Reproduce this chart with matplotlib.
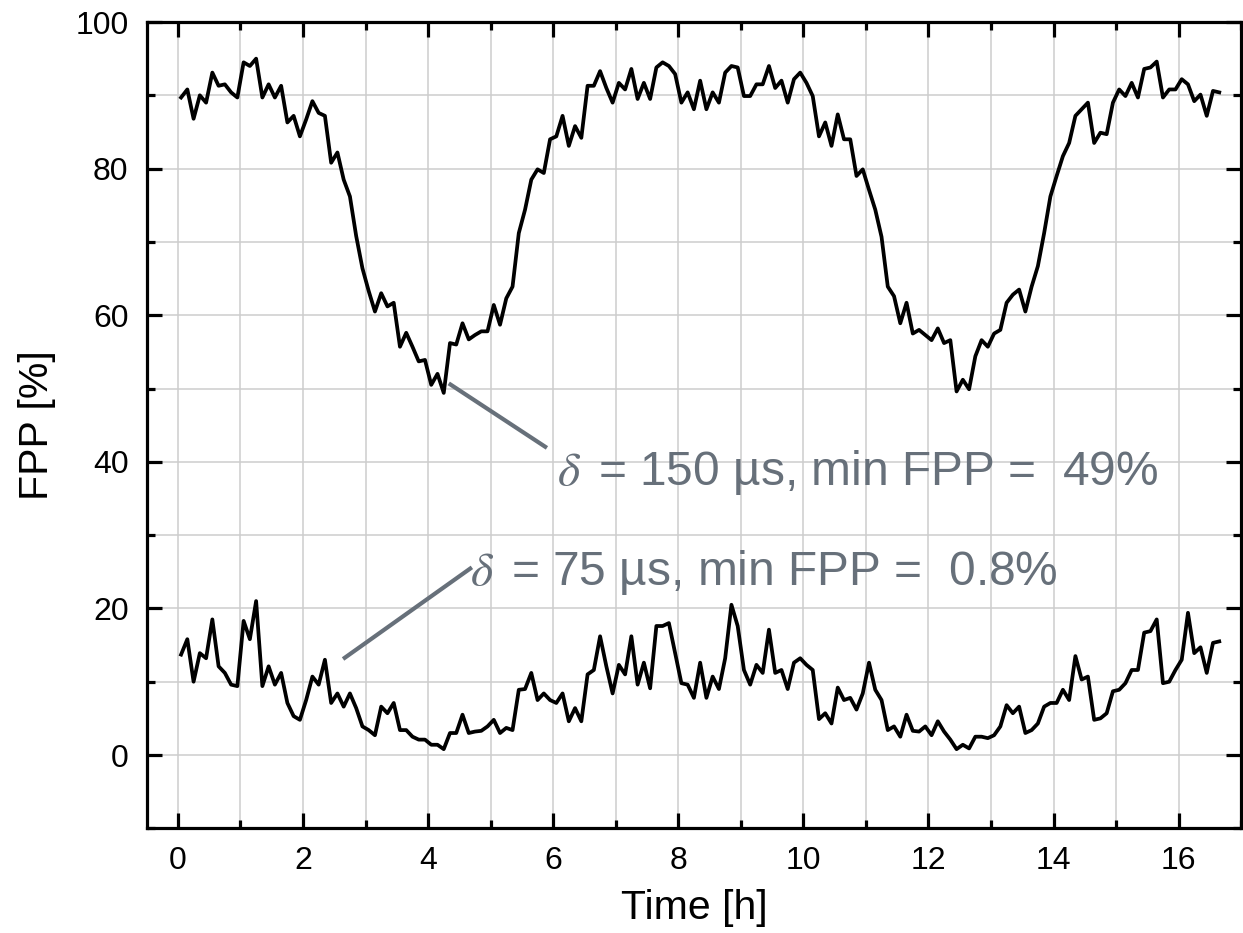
import numpy as np
import matplotlib
matplotlib.use("Agg")
import matplotlib.pyplot as plt
from matplotlib.ticker import MultipleLocator

plt.rcParams['font.family'] = ['Liberation Sans', 'DejaVu Sans']
plt.rcParams['mathtext.fontset'] = 'stix'

# sample times [h]
t_start, t_step, n_pts = 0.05, 0.1, 167

fpp_150 = [
    89.7, 90.8, 86.8, 90.0, 89.0, 93.1, 91.3, 91.5, 90.4, 89.7,
    94.5, 94.0, 95.0, 89.7, 91.5, 89.7, 91.3, 86.3, 87.2, 84.4,
    86.7, 89.2, 87.6, 87.2, 80.8, 82.2, 78.5, 76.2, 70.8, 66.4,
    63.3, 60.5, 63.0, 61.2, 61.7, 55.7, 57.6, 55.7, 53.7, 53.9,
    50.5, 52.0, 49.4, 56.2, 56.0, 58.9, 56.7, 57.3, 57.8, 57.8,
    61.4, 58.7, 62.3, 63.9, 71.2, 74.4, 78.5, 79.9, 79.4, 84.0,
    84.4, 87.2, 83.1, 85.8, 84.2, 91.3, 91.3, 93.3, 91.0, 89.0,
    91.7, 90.8, 93.6, 89.5, 91.7, 89.5, 93.8, 94.5, 94.0, 92.9,
    89.0, 90.4, 88.1, 92.0, 88.1, 90.4, 89.0, 93.1, 94.0, 93.8,
    89.9, 89.9, 91.5, 91.5, 94.0, 91.0, 92.0, 89.0, 92.2, 93.1,
    91.7, 89.9, 84.4, 86.3, 83.1, 87.4, 84.0, 84.0, 79.0, 79.9,
    77.1, 74.4, 70.7, 63.9, 62.6, 58.9, 61.7, 57.5, 58.0, 57.3,
    56.6, 58.2, 56.2, 56.6, 49.6, 51.2, 49.9, 54.4, 56.6, 55.7,
    57.5, 58.0, 61.7, 62.8, 63.5, 60.5, 63.9, 66.7, 71.2, 76.2,
    79.0, 81.7, 83.5, 87.2, 88.1, 89.0, 83.5, 84.9, 84.7, 89.0,
    90.8, 89.9, 91.7, 89.7, 93.6, 93.8, 94.6, 89.7, 90.8, 90.8,
    92.2, 91.5, 89.2, 90.1, 87.2, 90.6, 90.4,
]

fpp_75 = [
    13.7, 15.8, 10.0, 13.9, 13.2, 18.5, 12.1, 11.2, 9.6, 9.4,
    18.3, 15.8, 21.0, 9.4, 12.1, 9.6, 11.2, 7.1, 5.3, 4.8,
    7.5, 10.7, 9.6, 13.0, 7.1, 8.4, 6.6, 8.4, 6.4, 3.9,
    3.4, 2.7, 6.6, 5.7, 7.1, 3.4, 3.4, 2.5, 2.1, 2.1,
    1.4, 1.4, 0.8, 3.0, 3.0, 5.5, 3.0, 3.2, 3.3, 3.9,
    4.8, 3.0, 3.7, 3.4, 8.9, 9.0, 11.2, 7.5, 8.4, 7.5,
    7.1, 8.4, 4.6, 6.4, 4.6, 11.0, 11.6, 16.2, 12.1, 8.4,
    12.3, 11.0, 16.2, 9.6, 12.6, 9.1, 17.6, 17.6, 18.0, 13.9,
    9.8, 9.6, 7.8, 12.6, 7.8, 10.7, 9.0, 13.2, 20.5, 17.6,
    11.6, 9.6, 12.3, 11.2, 17.1, 11.2, 11.6, 9.0, 12.6, 13.2,
    12.3, 11.6, 4.9, 5.7, 4.3, 9.2, 7.5, 7.8, 6.2, 8.4,
    12.6, 8.9, 7.5, 3.4, 3.9, 2.5, 5.5, 3.3, 3.2, 3.9,
    2.7, 4.6, 3.2, 2.1, 0.8, 1.4, 0.9, 2.5, 2.5, 2.3,
    2.7, 3.9, 6.8, 5.7, 6.6, 3.0, 3.4, 4.3, 6.6, 7.1,
    7.1, 8.9, 7.5, 13.5, 10.3, 10.7, 4.8, 5.0, 5.7, 8.7,
    8.9, 9.8, 11.6, 11.6, 16.7, 16.9, 18.5, 9.8, 10.0, 11.6,
    13.0, 19.4, 13.9, 14.7, 11.2, 15.3, 15.5,
]

time_h = t_start + t_step * np.arange(n_pts)

label_150 = r"$\delta\,$ = 150 µs, min FPP =  49%"
label_75 = r"$\delta\,$ = 75 µs, min FPP =  0.8%"
x_ticks = [0, 2, 4, 6, 8, 10, 12, 14, 16]
y_ticks = [0, 20, 40, 60, 80, 100]

gray = '#67707a'

fig = plt.figure(figsize=(12.43, 9.33), dpi=100)
ax = fig.add_axes([0.118, 0.1122, 0.8805, 0.8642])

ax.plot(time_h, fpp_150, color='black', lw=2.7, zorder=3)
ax.plot(time_h, fpp_75, color='black', lw=2.7, zorder=3)

ax.set_xlim(-0.5, 17)
ax.set_ylim(-10, 100)
ax.set_xticks(x_ticks)
ax.set_yticks(y_ticks)
ax.xaxis.set_minor_locator(MultipleLocator(1))
ax.yaxis.set_minor_locator(MultipleLocator(10))

ax.grid(True, which='both', color='#cdcdcd', lw=1.1, zorder=0)
ax.set_axisbelow(True)

for s in ax.spines.values():
    s.set_linewidth(2.3)

ax.tick_params(which='both', direction='in', top=True, right=True,
               labelsize=23, pad=13, width=2.3, color='black')
ax.tick_params(which='major', length=11)
ax.tick_params(which='minor', length=5.5)

ax.set_xlabel('Time [h]', fontsize=29.5, labelpad=9)
ax.set_ylabel('FPP [%]', fontsize=29.5, labelpad=14)

# annotations
ax.plot([4.33, 5.9], [50.7, 41.9], color=gray, lw=3, solid_capstyle='butt', zorder=4)
ax.plot([2.64, 4.70], [13.1, 25.6], color=gray, lw=3, solid_capstyle='butt', zorder=4)
ax.text(6.06, 36.8, label_150, color=gray, fontsize=34.5, ha='left', va='baseline', zorder=5)
ax.text(4.67, 23.2, label_75, color=gray, fontsize=34.5, ha='left', va='baseline', zorder=5)

fig.savefig('out.png', dpi=100)
